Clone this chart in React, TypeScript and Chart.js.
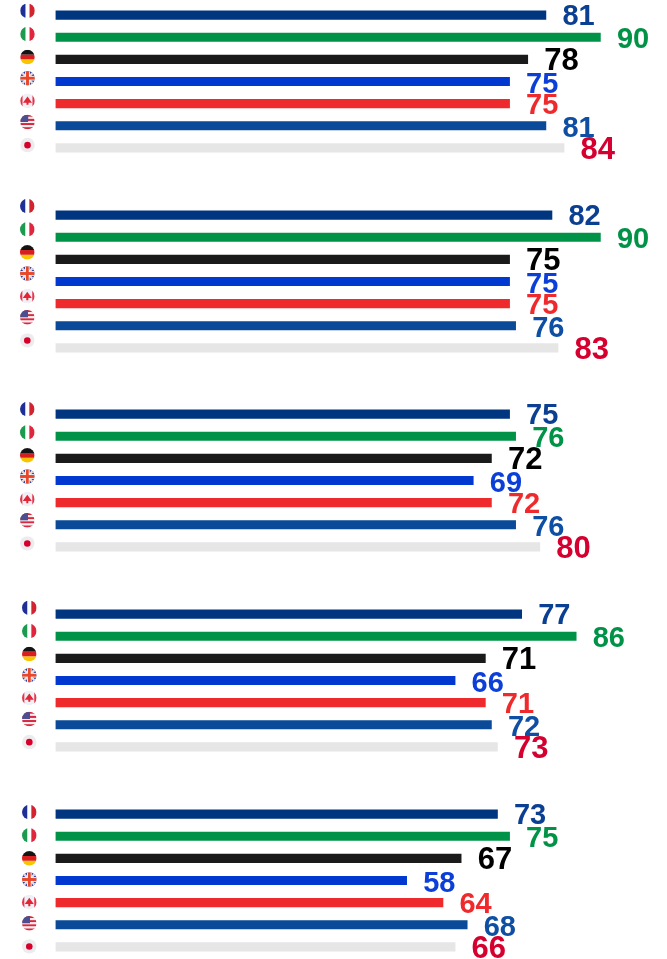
import React, { useEffect, useRef } from "react";
import { Chart, registerables } from "chart.js";

Chart.register(...registerables);

const countries = ["France", "Italy", "Germany", "UK", "Canada", "USA", "Japan"];
const group1 = [81, 90, 78, 75, 75, 81, 84];
const group2 = [82, 90, 75, 75, 75, 76, 83];
const group3 = [75, 76, 72, 69, 72, 76, 80];
const group4 = [77, 86, 71, 66, 71, 72, 73];
const group5 = [73, 75, 67, 58, 64, 68, 66];
const groups = [group1, group2, group3, group4, group5];
const barColors = ["#003580", "#009246", "#1a1a1a", "#0038d0", "#ee2a2d", "#0a4a98", "#e6e6e6"];
const labelColors = ["#0b3f91", "#009246", "#000000", "#0b3fd8", "#ee2a2d", "#0f4fa3", "#d5002f"];
const labelSizes = [29, 29, 31, 29, 29, 29, 31];
const labelShift = [1.5, 2.5, 2.5, 3, 2, 3, 3];
const groupTops = [4, 204, 403, 603, 803];
const topRoom = 20;
const flagX = [27.5, 27.3, 27.3, 29.3, 29.3];
const flagGroupShift = [-3.3, -8, -4, -5.3, -1];
const flagCountryShift = [-1, 0.2, 1, 0, 0.5, -0.5, 0.5];

function flag(ctx: CanvasRenderingContext2D, name: string, x: number, y: number, r: number) {
  ctx.save();
  ctx.beginPath();
  ctx.arc(x, y, r, 0, Math.PI * 2);
  ctx.clip();
  const L = x - r, T = y - r, S = r * 2;
  const rect = (c: string, a: number, b: number, w: number, h: number) => {
    ctx.fillStyle = c;
    ctx.fillRect(L + a * S, T + b * S, w * S, h * S);
  };
  rect("#ffffff", 0, 0, 1, 1);
  if (name === "France") {
    rect("#1f2f98", 0, 0, 0.36, 1);
    rect("#d2232f", 0.64, 0, 0.36, 1);
  } else if (name === "Italy") {
    rect("#1c9a4f", 0, 0, 0.36, 1);
    rect("#e0263c", 0.64, 0, 0.36, 1);
  } else if (name === "Germany") {
    rect("#141414", 0, 0, 1, 0.34);
    rect("#d81e1e", 0, 0.34, 1, 0.33);
    rect("#f7c600", 0, 0.67, 1, 0.33);
  } else if (name === "UK") {
    rect("#24409c", 0, 0, 1, 1);
    ctx.strokeStyle = "#f2d9d5";
    ctx.lineWidth = S * 0.16;
    ctx.beginPath();
    ctx.moveTo(L, T); ctx.lineTo(L + S, T + S);
    ctx.moveTo(L + S, T); ctx.lineTo(L, T + S);
    ctx.stroke();
    rect("#ffffff", 0.34, 0, 0.32, 1);
    rect("#ffffff", 0, 0.34, 1, 0.32);
    rect("#e8482a", 0.4, 0, 0.2, 1);
    rect("#e8482a", 0, 0.4, 1, 0.2);
  } else if (name === "Canada") {
    rect("#eef0f5", 0, 0, 1, 1);
    rect("#e8334a", 0, 0, 0.16, 1);
    rect("#e8334a", 0.84, 0, 0.16, 1);
    ctx.fillStyle = "#e32636";
    ctx.beginPath();
    ctx.moveTo(x, y - r * 0.6);
    ctx.lineTo(x + r * 0.62, y + r * 0.25);
    ctx.lineTo(x + r * 0.14, y + r * 0.25);
    ctx.lineTo(x + r * 0.14, y + r * 0.55);
    ctx.lineTo(x - r * 0.14, y + r * 0.55);
    ctx.lineTo(x - r * 0.14, y + r * 0.25);
    ctx.lineTo(x - r * 0.62, y + r * 0.25);
    ctx.closePath();
    ctx.fill();
  } else if (name === "USA") {
    for (let i = 0; i < 7; i++) rect(i % 2 ? "#f4f0f2" : "#d9283f", 0, i / 7, 1, 1 / 7 + 0.01);
    rect("#4c4f8f", 0, 0, 0.55, 0.5);
  } else {
    rect("#ececee", 0, 0, 1, 1);
    ctx.fillStyle = "#d8002b";
    ctx.beginPath();
    ctx.arc(x, y, r * 0.45, 0, Math.PI * 2);
    ctx.fill();
  }
  ctx.restore();
}

function Row({ values, index }: { values: number[]; index: number }) {
  const ref = useRef<HTMLCanvasElement>(null);
  useEffect(() => {
    const chart = new Chart(ref.current!, {
      type: "bar",
      data: {
        labels: countries,
        datasets: [{
          data: values,
          backgroundColor: barColors,
          barThickness: 8.5,
        }],
      },
      options: {
        indexAxis: "y",
        animation: false,
        responsive: false,
        layout: { padding: { left: 55.5, right: 0, top: topRoom, bottom: 0 } },
        plugins: { legend: { display: false }, tooltip: { enabled: false } },
        scales: {
          x: { type: "linear", min: 0, max: 101, display: false },
          y: { type: "category", display: false },
        },
      },
      plugins: [{
        id: "marks",
        afterDatasetsDraw(c: any) {
          const ctx = c.ctx as CanvasRenderingContext2D;
          const xs = c.scales.x, ys = c.scales.y;
          values.forEach((v, i) => {
            const y = ys.getPixelForValue(i);
            flag(ctx, countries[i], flagX[index], y + flagGroupShift[index] + flagCountryShift[i], 7.3);
            ctx.save();
            ctx.font = `bold ${labelSizes[i]}px "Liberation Sans", Arial, sans-serif`;
            ctx.fillStyle = labelColors[i];
            ctx.textAlign = "left";
            ctx.textBaseline = "middle";
            ctx.fillText(String(v), xs.getPixelForValue(v) + 16.5, y + labelShift[i]);
            ctx.restore();
          });
        },
      }],
    } as any);
    return () => chart.destroy();
  }, []);
  return (
    <canvas
      ref={ref}
      width={667}
      height={155 + topRoom}
      style={{ position: "absolute", left: 0, top: groupTops[index] - topRoom, width: 667, height: 155 + topRoom }}
    />
  );
}

export default function App() {
  return (
    <div style={{ position: "absolute", left: 0, top: 0, width: 667, height: 959, overflow: "hidden", background: "#fff" }}>
      {groups.map((g, i) => <Row key={i} values={g} index={i} />)}
    </div>
  );
}
